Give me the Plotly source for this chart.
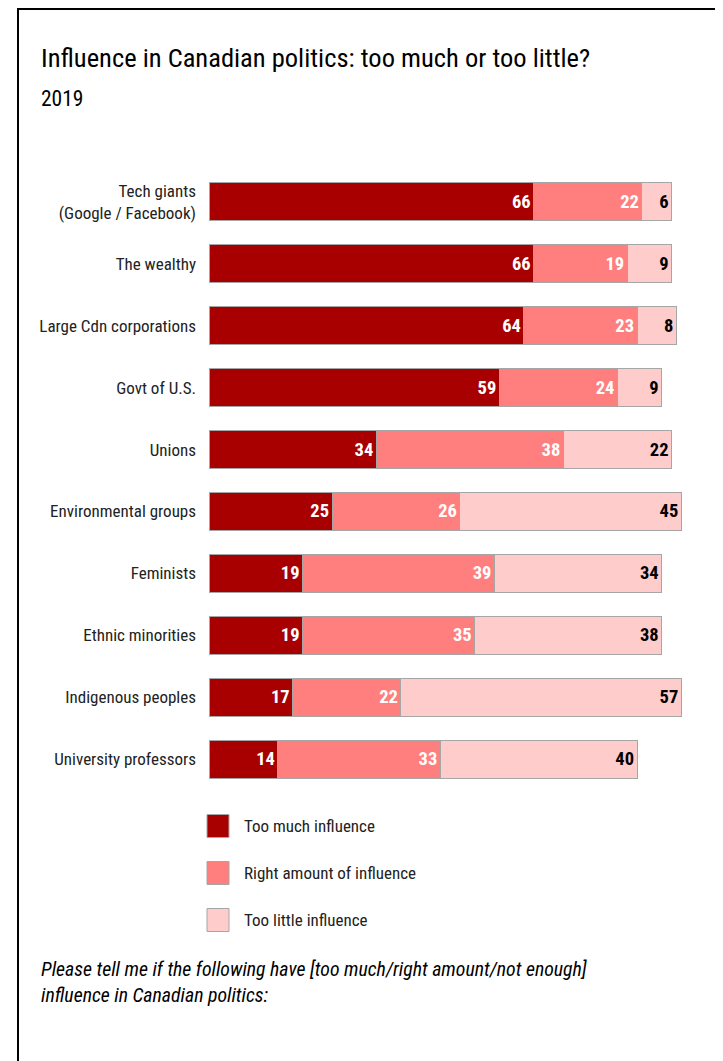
import plotly.graph_objects as go

categories = [
    "Tech giants<br>(Google / Facebook)",
    "The wealthy",
    "Large Cdn corporations",
    "Govt of U.S.",
    "Unions",
    "Environmental groups",
    "Feminists",
    "Ethnic minorities",
    "Indigenous peoples",
    "University professors",
]
too_much = [66, 66, 64, 59, 34, 25, 19, 19, 17, 14]
right_amount = [22, 19, 23, 24, 38, 26, 39, 35, 22, 33]
too_little = [6, 9, 8, 9, 22, 45, 34, 38, 57, 40]
series_names = ["Too much influence", "Right amount of influence", "Too little influence"]

colors = ["#A80000", "#FF7F7F", "#FFCCCC"]
text_colors = ["white", "white", "black"]
NARROW = "Roboto Condensed, DejaVu Sans Condensed, Liberation Sans, sans-serif"

# page body has an 8px margin; coordinates below are in figure pixels
OFF = 8
W, H = 723 - OFF, 1061 - OFF
L, R, T, B = 209 - OFF, 22, 171 - OFF, 271
PW = W - L - R
PH = H - T - B


def px(x):
    return (x - OFF - L) / PW


def py(y):
    return (H - B - (y - OFF)) / PH


fig = go.Figure()
for vals, name, col, tcol in zip([too_much, right_amount, too_little], series_names, colors, text_colors):
    fig.add_trace(go.Bar(
        y=categories, x=vals, name=name, orientation="h",
        marker=dict(color=col, line=dict(color="#A6A6A6", width=1)),
        text=vals, textposition="inside", insidetextanchor="end",
        textfont=dict(family=NARROW, size=18.5, color=tcol, weight="bold"),
        textangle=0, showlegend=False, hoverinfo="skip",
    ))

shapes = [
    dict(type="rect", xref="paper", yref="paper",
         x0=px(18), x1=px(719), y0=py(1080), y1=py(9),
         line=dict(color="black", width=2), fillcolor="rgba(0,0,0,0)", layer="below"),
]
annotations = [
    dict(text="Influence in Canadian politics: too much or too little?", xref="paper", yref="paper",
         x=px(39), y=py(58), xanchor="left", yanchor="middle", showarrow=False,
         font=dict(family=NARROW, size=26.5, color="black")),
    dict(text="2019", xref="paper", yref="paper",
         x=px(39), y=py(98), xanchor="left", yanchor="middle", showarrow=False,
         font=dict(family=NARROW, size=21.5, color="black")),
    dict(text="<i>Please tell me if the following have [too much/right amount/not enough]<br>influence in Canadian politics:</i>",
         xref="paper", yref="paper", align="left",
         x=px(39), y=py(982), xanchor="left", yanchor="middle", showarrow=False,
         font=dict(family=NARROW, size=19.8, color="black")),
]
legend_y = [826, 873, 920]
for name, col, ly in zip(series_names, colors, legend_y):
    shapes.append(dict(type="rect", xref="paper", yref="paper",
                       x0=px(207), x1=px(229), y0=py(ly + 11.5), y1=py(ly - 11.5),
                       fillcolor=col, line=dict(color="#A6A6A6", width=1)))
    annotations.append(dict(text=name, xref="paper", yref="paper",
                            x=px(242), y=py(ly), xanchor="left", yanchor="middle", showarrow=False,
                            font=dict(family=NARROW, size=17, color="#222")))

fig.update_layout(
    width=W, height=H, barmode="stack", bargap=0.386,
    margin=dict(l=L, r=R, t=T, b=B, autoexpand=False),
    plot_bgcolor="white", paper_bgcolor="white",
    shapes=shapes, annotations=annotations,
    uniformtext=dict(minsize=10, mode="show"),
    xaxis=dict(range=[0, 100], visible=False, fixedrange=True, automargin=False),
    yaxis=dict(autorange="reversed", showgrid=False, showline=False, zeroline=False,
               ticks="", ticklabelstandoff=12, automargin=False,
               tickfont=dict(family=NARROW, size=17, color="#222"), fixedrange=True),
)

fig.write_html("out.html")
